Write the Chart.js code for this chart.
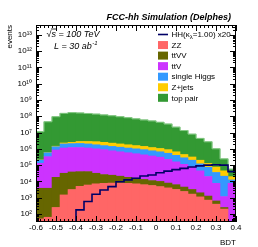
<!DOCTYPE html>
<html><head><meta charset="utf-8">
<script src="https://cdn.jsdelivr.net/npm/chart.js@4.4.1/dist/chart.umd.min.js"></script>
<style>html,body{margin:0;padding:0;background:#fff;overflow:hidden}canvas{display:block}</style>
</head><body>
<canvas id="c" width="258" height="247"></canvas>
<script>
// BDT bin edges (25 bins of width 0.04)
const bdtEdges = [-0.6,-0.56,-0.52,-0.48,-0.44,-0.4,-0.36,-0.32,-0.28,-0.24,-0.2,-0.16,-0.12,-0.08,-0.04,0,0.04,0.08,0.12,0.16,0.2,0.24,0.28,0.32,0.36,0.4];

// Cumulative stack heights (events) per bin
const stackZZ       = [50,63,250,1480,3160,5000,6000,7100,7600,7900,7900,7600,7100,6300,5600,4800,4000,3200,2400,1660,1120,710,400,200,10];
const stackTTVV     = [3800,3800,17800,31600,38000,39800,39800,31600,26300,24000,20900,17800,15800,13200,11200,10000,7900,6300,4500,3200,2000,1260,630,250,16];
const stackTTV      = [1.29e5,3.31e5,8.5e5,1.12e6,1.2e6,1.2e6,1.12e6,1.0e6,8.9e5,7.6e5,6.6e5,5.75e5,5.0e5,4.27e5,3.63e5,3.09e5,2.24e5,1.58e5,1.12e5,7.6e4,4.47e4,2.0e4,7600,1170,7600];
const stackSingleH  = [2.04e5,5.75e5,1.35e6,2.0e6,2.09e6,2.14e6,2.0e6,1.78e6,1.58e6,1.41e6,1.26e6,1.12e6,1.0e6,8.9e5,7.6e5,6.6e5,5.37e5,3.98e5,2.82e5,2.0e5,1.2e5,7.4e4,3.55e4,2.09e4,1.23e4];
const stackZjets    = [2.09e5,5.89e5,1.45e6,2.29e6,2.51e6,2.82e6,2.82e6,2.75e6,2.51e6,2.24e6,2.0e6,1.78e6,1.58e6,1.41e6,1.2e6,1.05e6,8.9e5,6.6e5,4.47e5,3.16e5,2.0e5,1.26e5,7.6e4,4.47e4,1.95e4];
const stackTopPair  = [1.12e7,4.57e7,9.33e7,1.51e8,1.66e8,1.58e8,1.48e8,1.35e8,1.2e8,1.07e8,9.33e7,8.13e7,6.92e7,5.89e7,5.13e7,4.27e7,3.31e7,2.14e7,1.32e7,7.94e6,4.37e6,2.69e6,1.0e6,2.4e5,5.62e4];

// HH signal (kappa_lambda = 1.00) scaled x20
const hhSignalX20   = [0,0,0,0,0,178,575,1620,2950,4790,9550,1.23e4,1.55e4,2.14e4,2.45e4,3.39e4,4.27e4,5.25e4,6.31e4,7.59e4,8.91e4,1.0e5,1.05e5,1.0e5,3.98e4];

// Axis ticks
const xTickValues = [-0.6,-0.5,-0.4,-0.3,-0.2,-0.1,0,0.1,0.2,0.3,0.4];
const yTickPowers = [2,3,4,5,6,7,8,9,10,11,12,13];
const axisMin = 32, axisMax = 4e13;

const processNames  = ['ZZ','ttVV','ttV','single Higgs','Z+jets','top pair'];
const processColors = ['#ff6666','#666600','#cc33ff','#3399ff','#ffcc00','#339933'];
const stacks = [stackZZ, stackTTVV, stackTTV, stackSingleH, stackZjets, stackTopPair];
const hhColor = '#000066';
const FONT = '"Liberation Sans", Arial, Helvetica, sans-serif';

const centers = bdtEdges.slice(0, -1).map((e, i) => (e + bdtEdges[i + 1]) / 2);

const barSets = stacks.map((top, k) => ({
  type: 'bar',
  label: processNames[k],
  data: top.map((v, i) => ({ x: centers[i], y: [k === 0 ? axisMin / 10 : stacks[k - 1][i], v] })),
  backgroundColor: processColors[k],
  borderWidth: 0,
  grouped: false,
  barPercentage: 1,
  categoryPercentage: 1,
  inflateAmount: 0.3
}));

const hhLine = {
  type: 'line',
  label: 'HH(κλ=1.00) x20',
  data: bdtEdges.map((e, i) => {
    const v = hhSignalX20[Math.min(i, hhSignalX20.length - 1)];
    return { x: e, y: v > 0 ? v : axisMin / 10 };
  }),
  stepped: 'before',
  borderColor: hhColor,
  borderWidth: 1.6,
  pointRadius: 0,
  fill: false
};

const topOutline = {
  type: 'line',
  label: 'top outline',
  data: bdtEdges.map((e, i) => ({ x: e, y: stackTopPair[Math.min(i, stackTopPair.length - 1)] })),
  stepped: 'before',
  borderColor: '#86c986',
  borderWidth: 1,
  pointRadius: 0,
  fill: false
};

const sup = { '0':'⁰','1':'¹','2':'²','3':'³','4':'⁴','5':'⁵','6':'⁶','7':'⁷','8':'⁸','9':'⁹','-':'⁻' };

const rootStyle = {
  id: 'rootStyle',
  afterDatasetsDraw(chart) {
    const ctx = chart.ctx, a = chart.chartArea;
    const xs = chart.scales.x, ys = chart.scales.y;
    ctx.save();
    ctx.strokeStyle = '#000';
    ctx.lineWidth = 1;
    ctx.beginPath();
    for (let i = 0; i <= 50; i++) {
      const v = -0.6 + i * 0.02;
      const px = Math.round(xs.getPixelForValue(v)) + 0.5;
      const len = i % 5 === 0 ? 6 : 3;
      ctx.moveTo(px, a.bottom); ctx.lineTo(px, a.bottom - len);
      ctx.moveTo(px, a.top); ctx.lineTo(px, a.top + len);
    }
    for (let p = 1; p <= 13; p++) {
      for (let m = 1; m <= 9; m++) {
        const v = m * Math.pow(10, p);
        if (v < axisMin || v > axisMax) continue;
        const py = Math.round(ys.getPixelForValue(v)) + 0.5;
        const len = m === 1 ? 6 : 3;
        ctx.moveTo(a.left, py); ctx.lineTo(a.left + len, py);
        ctx.moveTo(a.right, py); ctx.lineTo(a.right - len, py);
      }
    }
    ctx.stroke();
    ctx.strokeRect(Math.round(a.left) + 0.5, Math.round(a.top) + 0.5, Math.round(a.right - a.left) - 1, Math.round(a.bottom - a.top) - 1);
    ctx.restore();
  },
  afterDraw(chart) {
    const ctx = chart.ctx, a = chart.chartArea;
    ctx.save();
    ctx.fillStyle = '#000';
    ctx.font = 'italic bold 9px ' + FONT;
    ctx.textAlign = 'right'; ctx.textBaseline = 'alphabetic';
    ctx.fillText('FCC-hh Simulation (Delphes)', 231, 20);
    ctx.font = 'italic 9px ' + FONT;
    ctx.textAlign = 'left';
    const sx = 46.5, sy = 36.5;
    ctx.fillText('√s = 100 TeV', sx, sy);
    const wR = ctx.measureText('√').width, wS = ctx.measureText('s').width;
    ctx.lineWidth = 0.8; ctx.strokeStyle = '#000';
    ctx.beginPath(); ctx.moveTo(sx + wR - 0.5, sy - 7.5); ctx.lineTo(sx + wR + wS + 0.5, sy - 7.5); ctx.stroke();
    const lx = 54, ly = 48.5;
    ctx.fillText('L = 30 ab', lx, ly);
    const wL = ctx.measureText('L = 30 ab').width;
    ctx.font = 'italic 6px ' + FONT;
    ctx.fillText('-1', lx + wL + 0.5, ly - 4);
    ctx.font = '8px ' + FONT;
    ctx.textAlign = 'right';
    ctx.fillText('BDT', a.right, 244.5);
    ctx.save();
    ctx.translate(9.5, a.top);
    ctx.rotate(-Math.PI / 2);
    ctx.textBaseline = 'middle';
    ctx.fillText('events', 0, 0);
    ctx.restore();
    const items = [{ label: hhLine.label, line: true, color: hhColor }]
      .concat(processNames.map((n, k) => ({ label: n, color: processColors[k] })));
    items.forEach((it, i) => {
      const yc = 34.5 + i * 10.55;
      if (it.line) {
        ctx.strokeStyle = it.color; ctx.lineWidth = 1.6;
        ctx.beginPath(); ctx.moveTo(158, yc); ctx.lineTo(168, yc); ctx.stroke();
      } else {
        ctx.fillStyle = it.color;
        ctx.fillRect(158, yc - 4, 10, 8);
      }
      ctx.fillStyle = '#000';
      ctx.font = '8px ' + FONT;
      ctx.textAlign = 'left'; ctx.textBaseline = 'middle';
      if (it.line) {
        let x = 171.5;
        ctx.fillText('HH(κ', x, yc + 0.5); x += ctx.measureText('HH(κ').width;
        ctx.font = '6px ' + FONT;
        ctx.fillText('λ', x, yc + 2.5); x += ctx.measureText('λ').width;
        ctx.font = '8px ' + FONT;
        ctx.fillText('=1.00) x20', x, yc + 0.5);
      } else {
        ctx.fillText(it.label, 171.5, yc + 0.5);
      }
    });
    ctx.restore();
  }
};

new Chart(document.getElementById('c'), {
  type: 'bar',
  data: { datasets: [hhLine, topOutline].concat(barSets) },
  options: {
    responsive: false,
    animation: false,
    devicePixelRatio: 1,
    layout: { padding: { top: 25, right: 22, left: 0, bottom: 0 } },
    plugins: { legend: { display: false }, tooltip: { enabled: false } },
    scales: {
      x: {
        type: 'linear', min: -0.6, max: 0.4, offset: false,
        afterBuildTicks: s => { s.ticks = xTickValues.map(v => ({ value: v })); },
        ticks: {
          autoSkip: false, maxRotation: 0, padding: 1, color: '#000',
          font: { size: 8, family: FONT },
          callback: v => Math.abs(v) < 1e-9 ? '0' : v.toFixed(1)
        },
        grid: { display: false, drawTicks: false, offset: false },
        border: { display: false },
        afterFit: s => { s.height = 25; }
      },
      y: {
        type: 'logarithmic', min: axisMin, max: axisMax,
        afterBuildTicks: s => { s.ticks = yTickPowers.map(p => ({ value: Math.pow(10, p) })); },
        ticks: {
          autoSkip: false, padding: 4, color: '#000',
          font: { size: 8, family: FONT },
          callback: v => '10' + String(Math.round(Math.log10(v))).split('').map(c => sup[c]).join('')
        },
        grid: { display: false, drawTicks: false },
        border: { display: false },
        afterFit: s => { s.width = 36; }
      }
    }
  },
  plugins: [rootStyle]
});
</script>
</body></html>
